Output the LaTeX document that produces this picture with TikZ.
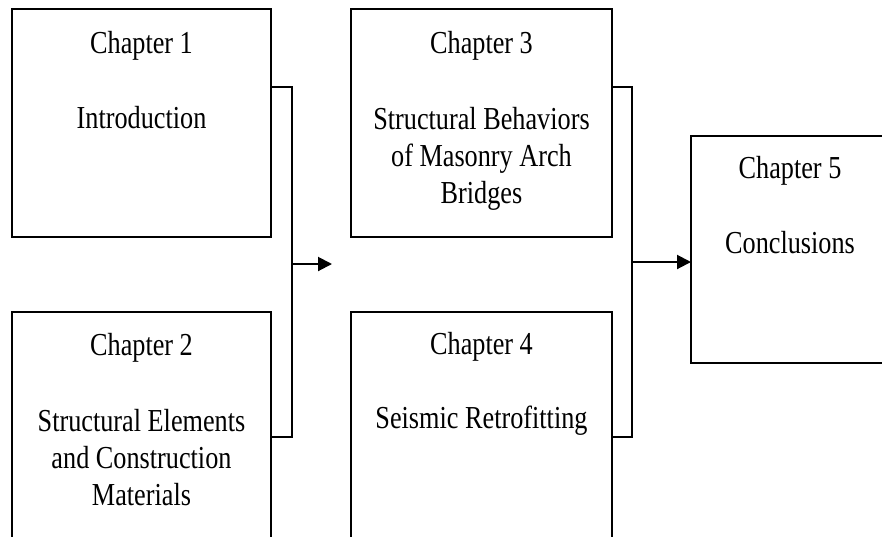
\documentclass[tikz,border=0pt]{standalone}
\usepackage{fontspec}
\setmainfont[FakeStretch=0.82]{Liberation Serif}
\usetikzlibrary{arrows.meta}
\begin{document}
\begin{tikzpicture}[x=1pt,y=1pt,
  chapbox/.style={draw, line width=1.6pt, rectangle, inner sep=0pt, outer sep=0pt, anchor=north west},
  txt/.style={anchor=base, align=center, inner sep=0pt, font=\fontsize{32}{37}\selectfont},
  link/.style={line width=1.6pt},
  arr/.style={line width=2pt, -{Triangle[length=14pt,width=14pt]}}]
\useasboundingbox (0,0) rectangle (882,-536);
\clip (0,0) rectangle (882,-536);
% boxes
\node[chapbox, minimum width=259pt, minimum height=228pt] (b1) at (12,-9) {};
\node[chapbox, minimum width=259pt, minimum height=240pt] (b2) at (12,-312) {};
\node[chapbox, minimum width=261pt, minimum height=228pt] (b3) at (351,-9) {};
\node[chapbox, minimum width=261pt, minimum height=240pt] (b4) at (351,-312) {};
\node[chapbox, minimum width=200pt, minimum height=227pt] (b5) at (691,-136) {};
% texts
\node[txt] (t1a) at (141.5,-53) {Chapter 1};
\node[txt] (t1b) at (141.5,-128) {Introduction};
\node[txt] (t2a) at (141.5,-355) {Chapter 2};
\node[txt] (t2b) at (141.5,-505) {Structural Elements\\and Construction\\Materials};
\node[txt] (t3a) at (481.5,-53) {Chapter 3};
\node[txt] (t3b) at (481.5,-203) {Structural Behaviors\\of Masonry Arch\\Bridges};
\node[txt] (t4a) at (481.5,-354) {Chapter 4};
\node[txt] (t4b) at (481.5,-428) {Seismic Retrofitting};
\node[txt] (t5a) at (790,-178) {Chapter 5};
\node[txt] (t5b) at (790,-253) {Conclusions};
% connector points
\coordinate (k1) at (292,-87);
\coordinate (k2) at (292,-437);
\coordinate (m1) at (292,-264);
\coordinate (e1) at (332,-264);
\coordinate (k3) at (632,-87);
\coordinate (k4) at (632,-437);
\coordinate (m2) at (632,-262);
% connectors
\draw[link] (b1.east |- k1) -- (k1) -- (k2) -- (b2.east |- k2);
\draw[arr] (m1) -- (e1);
\draw[link] (b3.east |- k3) -- (k3) -- (k4) -- (b4.east |- k4);
\draw[arr] (m2) -- (b5.west |- m2);
\end{tikzpicture}
\end{document}
